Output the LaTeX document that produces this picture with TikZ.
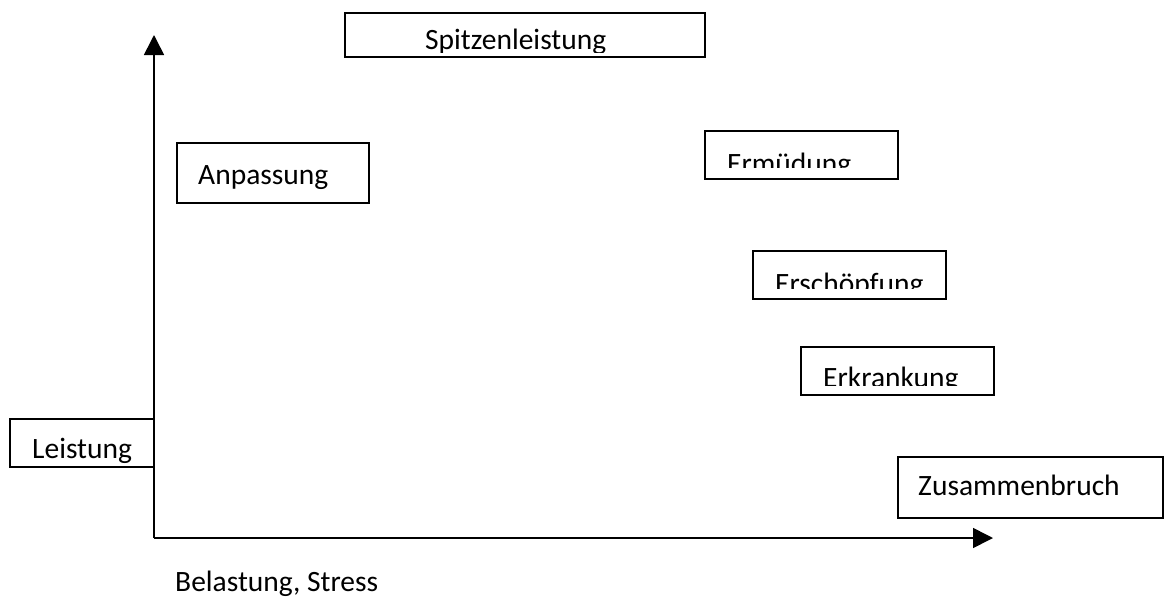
\documentclass[tikz,border=0pt]{standalone}
\usepackage{fontspec}
\setmainfont{Carlito}
\usetikzlibrary{arrows.meta}

\tikzset{
  stufenbox/.style={draw, line width=1.2pt, inner sep=0pt, outer sep=0pt, anchor=north west},
  stufentext/.style={anchor=base west, inner sep=0pt},
  achse/.style={line width=1.6pt, -{Triangle[width=20pt,length=20pt]}}
}
% Name, links, oben, rechts, unten, Text-x, Grundlinie, Schnittkante, Text
\newcommand{\stufe}[9]{%
  \node[stufenbox, minimum width={(#4-#2)*1pt}, minimum height={(#5-#3)*1pt}] (#1) at (#2,#3) {};
  \begin{scope}
    \clip (#2,#3) rectangle (#4,#8);
    \node[stufentext] (#1-text) at (#6,#7) {#9};
  \end{scope}}

\begin{document}
\begin{tikzpicture}[x=1pt, y=-1pt, font=\fontsize{29.5}{34}\selectfont]
\useasboundingbox (0,0) rectangle (1165,598);
\coordinate (ursprung) at (154,538);
\coordinate (yspitze) at (154,35);
\coordinate (xspitze) at (993,538);
\draw[achse] (ursprung) -- (yspitze);
\draw[achse] (ursprung) -- (xspitze);

\stufe{spitze}{345}{13}{705}{57}{425}{49}{52}{Spitzenleistung}
\stufe{anpassung}{177}{143}{369}{203}{198}{184}{203}{Anpassung}
\stufe{ermuedung}{705}{131}{898}{179}{727}{173}{167}{Ermüdung}
\stufe{erschoepfung}{753}{251}{946}{299}{775}{293}{288}{Erschöpfung}
\stufe{erkrankung}{801}{347}{994}{395}{823}{387}{385}{Erkrankung}
\stufe{leistung}{10}{419}{154}{467}{32}{458}{463}{Leistung}
\stufe{zusammenbruch}{898}{457}{1163}{518}{918}{495}{518}{Zusammenbruch}

\node[anchor=base west, inner sep=0pt] (belastung) at (175,591) {Belastung, Stress};
\end{tikzpicture}
\end{document}
